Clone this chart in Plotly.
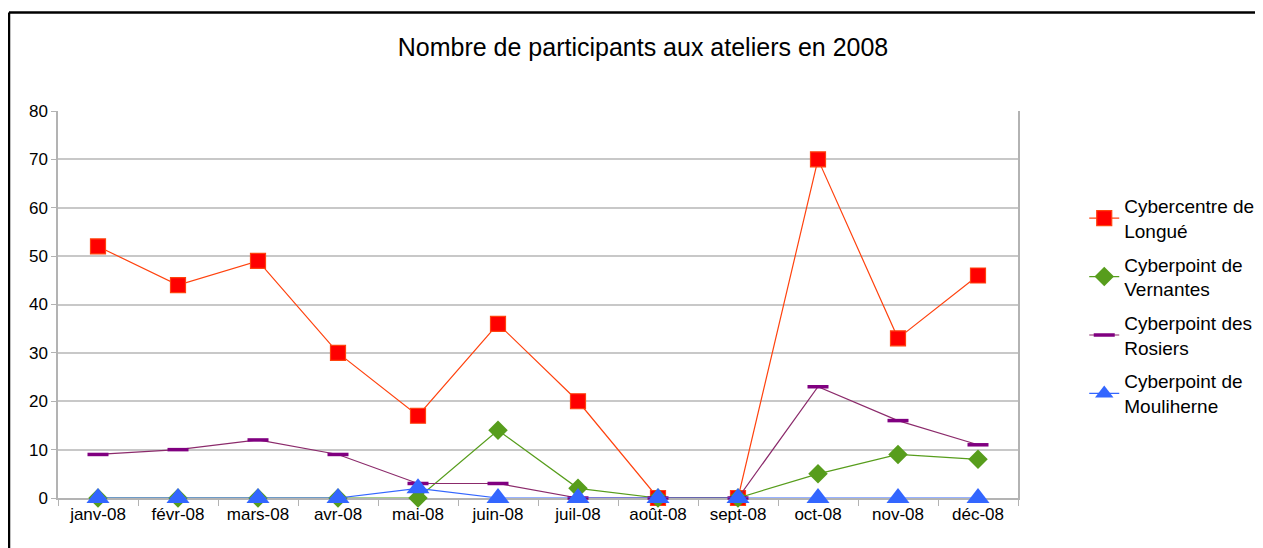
import plotly.graph_objects as go

# Data
MONTHS = ["janv-08", "févr-08", "mars-08", "avr-08", "mai-08", "juin-08",
          "juil-08", "août-08", "sept-08", "oct-08", "nov-08", "déc-08"]

LONGUE = [52, 44, 49, 30, 17, 36, 20, 0, 0, 70, 33, 46]
VERNANTES = [0, 0, 0, 0, 0, 14, 2, 0, 0, 5, 9, 8]
ROSIERS = [9, 10, 12, 9, 3, 3, 0, 0, 0, 23, 16, 11]
MOULIHERNE = [0, 0, 0, 0, 2, 0, 0, 0, 0, 0, 0, 0]

Y_TICKS = [0, 10, 20, 30, 40, 50, 60, 70, 80]

FONT = "Liberation Sans, Arial, sans-serif"

fig = go.Figure()
fig.add_trace(go.Scatter(
    x=MONTHS, y=LONGUE, name="Cybercentre de<br>Longué", legendgroup="a",
    mode="lines+markers", cliponaxis=False,
    line=dict(color="#ff420e", width=1.2),
    marker=dict(symbol="square", size=15, color="#ff0000",
                line=dict(color="#ff420e", width=1.2)),
))
fig.add_trace(go.Scatter(
    x=MONTHS, y=VERNANTES, name="Cyberpoint de<br>Vernantes", legendgroup="b",
    mode="lines+markers", cliponaxis=False,
    line=dict(color="#579d1c", width=1.2),
    marker=dict(symbol="diamond", size=15, color="#579d1c"),
))
fig.add_trace(go.Scatter(
    x=MONTHS, y=ROSIERS, name="Cyberpoint des<br>Rosiers", legendgroup="c",
    mode="lines+markers", cliponaxis=False,
    line=dict(color="#8b2a6b", width=1.2),
    marker=dict(symbol="line-ew", size=15,
                line=dict(color="#800080", width=3.5)),
))
fig.add_trace(go.Scatter(
    x=MONTHS, y=MOULIHERNE, name="Cyberpoint de<br>Mouliherne", legendgroup="d",
    mode="lines+markers", cliponaxis=False,
    line=dict(color="#3366ff", width=1.2),
    marker=dict(symbol="triangle-up", size=20, color="#3366ff"),
))

BORDER_X = (1 - 50) / 960
BORDER_Y = 1 + (103 - 4.5) / 387

fig.update_layout(
    width=1263, height=548,
    margin=dict(l=50, r=253, t=103, b=58),
    paper_bgcolor="white", plot_bgcolor="white",
    font=dict(family=FONT, color="#000000"),
    title=dict(text="Nombre de participants aux ateliers en 2008",
               x=635 / 1263, xanchor="center", y=1 - 39 / 548, yanchor="middle",
               font=dict(size=25, family=FONT)),
    legend=dict(x=1.069, xanchor="left", y=0.8036, yanchor="top",
                font=dict(size=19, family=FONT), tracegroupgap=6,
                bgcolor="rgba(0,0,0,0)"),
    showlegend=True,
    shapes=[
        dict(type="line", xref="paper", yref="paper",
             x0=BORDER_X, x1=1.5, y0=BORDER_Y, y1=BORDER_Y,
             line=dict(color="black", width=2.5)),
        dict(type="line", xref="paper", yref="paper",
             x0=BORDER_X, x1=BORDER_X, y0=-0.5, y1=BORDER_Y,
             line=dict(color="black", width=2.5)),
    ],
)

fig.update_xaxes(
    type="category", range=[-0.5, len(MONTHS) - 0.5], layer="below traces",
    showgrid=False, showline=True, linecolor="#b3b3b3", linewidth=1.5,
    ticks="outside", tickson="boundaries", ticklen=6, tickcolor="#b3b3b3",
    tickfont=dict(size=17, family=FONT), zeroline=False,
)
fig.update_yaxes(
    range=[0, 80], tickvals=Y_TICKS, layer="below traces",
    showgrid=True, gridcolor="#c8c8c8", gridwidth=1.5,
    showline=True, linecolor="#b3b3b3", linewidth=1.5, mirror=True,
    ticks="outside", ticklen=5, tickcolor="#b3b3b3",
    tickfont=dict(size=17, family=FONT), zeroline=False,
)

fig.write_html("out.html")
